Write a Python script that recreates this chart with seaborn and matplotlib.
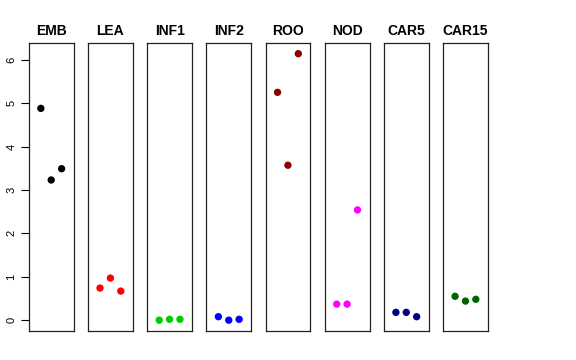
import pandas as pd
import seaborn as sns
import matplotlib.pyplot as plt

tissues = ["EMB", "LEA", "INF1", "INF2", "ROO", "NOD", "CAR5", "CAR15"]
colors = ["black", "#FF0000", "#00CD00", "#0000FF", "#8B0000", "#FF00FF", "#000080", "#006400"]
rep = [1, 2, 3]

emb = [4.88, 3.23, 3.49]
lea = [0.74, 0.97, 0.67]
inf1 = [0.00, 0.02, 0.02]
inf2 = [0.08, 0.00, 0.02]
roo = [5.25, 3.57, 6.14]
nod = [0.37, 0.37, 2.54]
car5 = [0.18, 0.18, 0.08]
car15 = [0.55, 0.44, 0.48]

values = [emb, lea, inf1, inf2, roo, nod, car5, car15]

rows = []
for t, vals in zip(tissues, values):
    for r, v in zip(rep, vals):
        rows.append({"tissue": t, "rep": r, "value": v})
df = pd.DataFrame(rows)

sns.set_style("white")
plt.rcParams["font.family"] = ["Liberation Sans", "DejaVu Sans"]

fig, axes = plt.subplots(1, 8, figsize=(5.76, 3.6), dpi=100, sharey=True)
fig.subplots_adjust(left=0.05, right=0.847, bottom=0.081, top=0.881, wspace=0.32)

for ax, t, c in zip(axes, tissues, colors):
    sub = df[df["tissue"] == t]
    sns.scatterplot(data=sub, x="rep", y="value", color=c, s=28, edgecolor="none", ax=ax)
    ax.set_xticks([])
    ax.set_xlabel("")
    ax.set_ylabel("")
    ax.set_title(t, fontsize=10, fontweight="bold", pad=6, color="black")
    for sp in ax.spines.values():
        sp.set_visible(True)
        sp.set_color("#222222")
        sp.set_linewidth(0.9)

axes[0].set_yticks(range(0, 7))
axes[0].tick_params(axis="y", left=True, length=6, width=0.8, color="black",
                    labelcolor="black", labelsize=8, pad=3)
for lab in axes[0].get_yticklabels():
    lab.set_rotation(90)
    lab.set_va("center")
for ax in axes[1:]:
    ax.tick_params(axis="y", left=False)

for ax in axes:
    ax.set_autoscale_on(False)
    ax.set_xlim(-0.16, 4.16)
    ax.set_ylim(-0.246, 6.39)

fig.savefig("out.png", dpi=100)
